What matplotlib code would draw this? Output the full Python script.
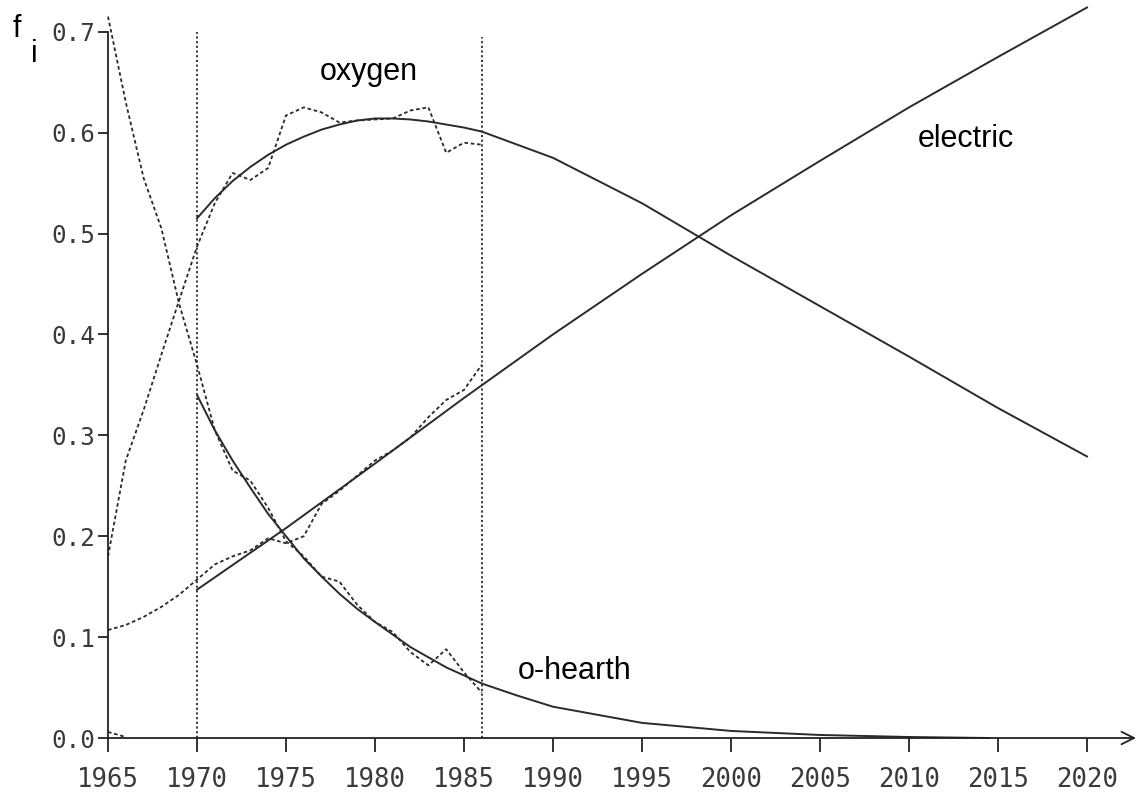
import matplotlib
matplotlib.use("Agg")
import matplotlib.pyplot as plt

# ---- observed data (dashed) ----
years_obs = [1965, 1966, 1967, 1968, 1969, 1970, 1971, 1972, 1973, 1974, 1975,
             1976, 1977, 1978, 1979, 1980, 1981, 1982, 1983, 1984, 1985, 1986]
ohearth_obs = [0.715, 0.630, 0.555, 0.505, 0.430, 0.370, 0.305, 0.265, 0.255, 0.228, 0.195,
               0.180, 0.160, 0.155, 0.132, 0.115, 0.105, 0.085, 0.072, 0.088, 0.065, 0.045]
oxygen_obs = [0.180, 0.275, 0.325, 0.380, 0.434, 0.487, 0.530, 0.560, 0.553, 0.565, 0.617,
              0.625, 0.620, 0.610, 0.612, 0.613, 0.614, 0.622, 0.625, 0.580, 0.590, 0.588]
electric_obs = [0.107, 0.112, 0.120, 0.130, 0.142, 0.157, 0.172, 0.180, 0.186, 0.198, 0.193,
                0.200, 0.232, 0.245, 0.260, 0.275, 0.285, 0.298, 0.318, 0.335, 0.345, 0.370]
bessemer_years = [1965, 1966]
bessemer_obs = [0.006, 0.001]

# ---- fitted / forecast curves (solid) ----
oxygen_fit_years = [1970, 1971, 1972, 1973, 1974, 1975, 1976, 1977, 1978, 1979, 1980,
                    1981, 1982, 1983, 1984, 1985, 1986, 1990, 1995, 2000, 2005, 2010, 2015, 2020]
oxygen_fit = [0.515, 0.535, 0.552, 0.566, 0.578, 0.588, 0.596, 0.603, 0.608, 0.612, 0.614,
              0.614, 0.613, 0.611, 0.608, 0.605, 0.601, 0.575, 0.530, 0.478, 0.428, 0.378, 0.327, 0.279]
electric_fit_years = [1970, 1975, 1980, 1985, 1990, 1995, 2000, 2005, 2010, 2015, 2020]
electric_fit = [0.147, 0.208, 0.272, 0.337, 0.400, 0.460, 0.518, 0.572, 0.625, 0.675, 0.724]
ohearth_fit_years = [1970, 1971, 1972, 1973, 1974, 1975, 1976, 1977, 1978, 1979, 1980,
                     1982, 1984, 1986, 1988, 1990, 1995, 2000, 2005, 2010, 2014.5]
ohearth_fit = [0.340, 0.305, 0.275, 0.248, 0.222, 0.200, 0.178, 0.160, 0.143, 0.128, 0.115,
               0.090, 0.070, 0.054, 0.042, 0.031, 0.015, 0.007, 0.003, 0.001, 0.000]

vlines_years = [1970, 1986]
vlines_tops = [0.700, 0.695]

xticks = list(range(1965, 2021, 5))
yticks = [0.0, 0.1, 0.2, 0.3, 0.4, 0.5, 0.6, 0.7]

labels = ["oxygen", "electric", "o-hearth"]
label_x = [1976.9, 2010.5, 1988.0]
label_y = [0.652, 0.586, 0.058]

W, H = 1139, 794
fig = plt.figure(figsize=(W / 100, H / 100), dpi=100)
x0, x1 = 108, 1136
y0 = 738
ppu_y = 1009.0
ax = fig.add_axes([x0 / W, (H - y0) / H, (x1 - x0) / W, 0.73 * ppu_y / H])
ax.set_xlim(1965, 1965 + (x1 - x0) / 17.8)
ax.set_ylim(0, 0.73)

line_c = "#2a2a2a"
dash = (0, (2.0, 1.5))

ax.plot(years_obs, ohearth_obs, color=line_c, lw=1.3, linestyle=dash, clip_on=False)
ax.plot(years_obs, oxygen_obs, color=line_c, lw=1.3, linestyle=dash, clip_on=False)
ax.plot(years_obs, electric_obs, color=line_c, lw=1.3, linestyle=dash, clip_on=False)
ax.plot(bessemer_years, bessemer_obs, color=line_c, lw=1.3, linestyle=dash, clip_on=False)

ax.plot(oxygen_fit_years, oxygen_fit, color=line_c, lw=1.4, clip_on=False)
ax.plot(electric_fit_years, electric_fit, color=line_c, lw=1.4, clip_on=False)
ax.plot(ohearth_fit_years, ohearth_fit, color=line_c, lw=1.4, clip_on=False)

for xv, top in zip(vlines_years, vlines_tops):
    ax.plot([xv, xv], [0, top], color=line_c, lw=1.3, linestyle=(0, (1.2, 1.4)))

for t, xv, yv in zip(labels, label_x, label_y):
    ax.text(xv, yv, t, fontsize=22, family="Liberation Sans", color="black",
            ha="left", va="baseline")

# axes styling
for s in ["top", "right"]:
    ax.spines[s].set_visible(False)
ax.spines["left"].set_bounds(0, 0.7)
ax.spines["bottom"].set_visible(False)
ax.spines["left"].set_color("#222222")
ax.spines["left"].set_linewidth(1.3)
ax.annotate("", xy=(1, 0), xytext=(0, 0), xycoords="axes fraction",
            textcoords="axes fraction",
            arrowprops=dict(arrowstyle="->,head_length=0.9,head_width=0.45",
                            color="#222222", lw=1.3, shrinkA=0, shrinkB=0),
            annotation_clip=False)

ax.set_xticks(xticks)
ax.set_xticklabels([str(v) for v in xticks])
ax.set_yticks(yticks)
ax.set_yticklabels([f"{v:.1f}" for v in yticks])
ax.tick_params(axis="x", direction="out", length=10, width=1.3, color="#222222",
               pad=11, labelsize=18.5, labelcolor="#3a3a3a")
ax.tick_params(axis="y", direction="out", length=7, width=1.3, color="#222222",
               pad=2.5, labelsize=17.5, labelcolor="#3a3a3a")
for lab in ax.get_xticklabels() + ax.get_yticklabels():
    lab.set_family("DejaVu Sans Mono")

fig.text(13 / W, 1 - 37 / H, "f", fontsize=22, family="Liberation Sans", va="baseline")
fig.text(31 / W, 1 - 62 / H, "i", fontsize=22, family="Liberation Sans", va="baseline")

fig.savefig("out.png", dpi=100, facecolor="white")
